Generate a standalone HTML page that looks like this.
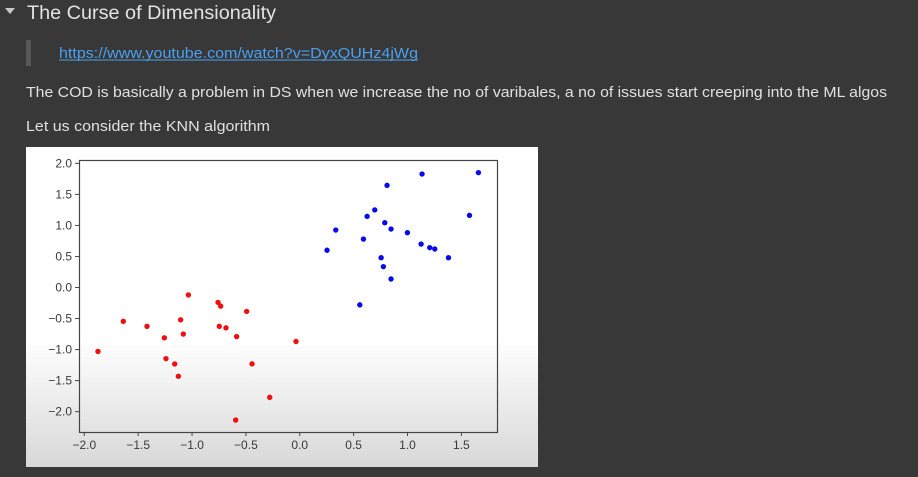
<!DOCTYPE html>
<html><head><meta charset="utf-8"><style>
html,body{margin:0;padding:0;background:#383838;width:918px;height:477px;overflow:hidden;font-family:"Liberation Sans",sans-serif}
svg{position:absolute;left:0;top:0}
</style></head><body>
<svg width="918" height="477">
  <polygon points="5,8 15,8 10,14" fill="#c8c8c8"/>
  <text x="27" y="19" font-size="19" fill="#e3e3e3" textLength="249" lengthAdjust="spacingAndGlyphs">The Curse of Dimensionality</text>
  <rect x="26" y="40" width="5" height="26" fill="#585858"/>
  <text x="59" y="58" font-size="15" fill="#4aa0f0" textLength="359" lengthAdjust="spacingAndGlyphs">https://www.youtube.com/watch?v=DyxQUHz4jWg</text>
  <line x1="59" y1="60" x2="418" y2="60" stroke="#4aa0f0" stroke-width="1"/>
  <text x="26" y="97" font-size="15" fill="#e0e0e0" textLength="861" lengthAdjust="spacingAndGlyphs">The COD is basically a problem in DS when we increase the no of varibales, a no of issues start creeping into the ML algos</text>
  <text x="26" y="131" font-size="15" fill="#e0e0e0" textLength="244" lengthAdjust="spacingAndGlyphs">Let us consider the KNN algorithm</text>
  <defs><linearGradient id="bg" x1="0" y1="0" x2="0" y2="1">
    <stop offset="0" stop-color="#ffffff"/><stop offset="0.6" stop-color="#ffffff"/><stop offset="1" stop-color="#d8d8d8"/></linearGradient></defs>
  <rect x="26" y="147" width="512" height="320" fill="url(#bg)"/>
  <g id="chart"></g>
</svg>
<script>
const xTicks=[-2.0,-1.5,-1.0,-0.5,0.0,0.5,1.0,1.5];
const yTicks=[2.0,1.5,1.0,0.5,0.0,-0.5,-1.0,-1.5,-2.0];
const redX=[-1.873,-1.638,-1.418,-1.257,-1.242,-1.161,-1.127,-1.106,-1.081,-1.034,-0.759,-0.734,-0.747,-0.685,-0.586,-0.493,-0.443,-0.595,-0.279,-0.035];
const redY=[-1.03,-0.545,-0.625,-0.81,-1.146,-1.232,-1.43,-0.52,-0.75,-0.12,-0.24,-0.30,-0.625,-0.65,-0.79,-0.385,-1.23,-2.135,-1.77,-0.87];
const blueX=[0.253,0.334,0.557,0.591,0.625,0.696,0.789,0.810,0.847,0.755,0.776,0.847,0.999,1.126,1.135,1.206,1.253,1.380,1.575,1.658];
const blueY=[0.60,0.926,-0.28,0.78,1.146,1.25,1.044,1.645,0.942,0.48,0.336,0.137,0.883,0.70,1.828,0.642,0.62,0.48,1.162,1.85];
const NS="http://www.w3.org/2000/svg";
const g=document.getElementById('chart');
const sx=v=>84.3+(v+2)*107.74;
const sy=v=>287.5-v*62.08;
function mk(t,a){const e=document.createElementNS(NS,t);for(const k in a)e.setAttribute(k,a[k]);g.appendChild(e);return e;}
const fr=mk('rect',{x:79.5,y:160.5,width:418,height:272,fill:'none',stroke:'#444','stroke-width':1.2});


const fmt=v=>(v<0?'\u2212':'')+Math.abs(v).toFixed(1);
xTicks.forEach(v=>{
  const x=sx(v);
  const t=mk('line',{x1:x,y1:432,x2:x,y2:436,stroke:'#444'});
  
  
  const l=mk('text',{x:x,y:449,'font-size':12,fill:'#3a3a3a','text-anchor':'middle'});
  l.textContent=fmt(v);
  
  
});
yTicks.forEach(v=>{
  const y=sy(v);
  const t=mk('line',{x1:75,y1:y,x2:79.5,y2:y,stroke:'#444'});
  
  
  const l=mk('text',{x:72,y:y+4,'font-size':12,fill:'#3a3a3a','text-anchor':'end'});
  l.textContent=fmt(v);
  
  
});
redX.forEach((v,i)=>{
  const c=mk('circle',{cx:sx(v),cy:sy(redY[i]),r:2.7,fill:'#ee1010'});
  
  
});
blueX.forEach((v,i)=>{
  const c=mk('circle',{cx:sx(v),cy:sy(blueY[i]),r:2.7,fill:'#0a0ae6'});
  
  
});
</script>
</body></html>
